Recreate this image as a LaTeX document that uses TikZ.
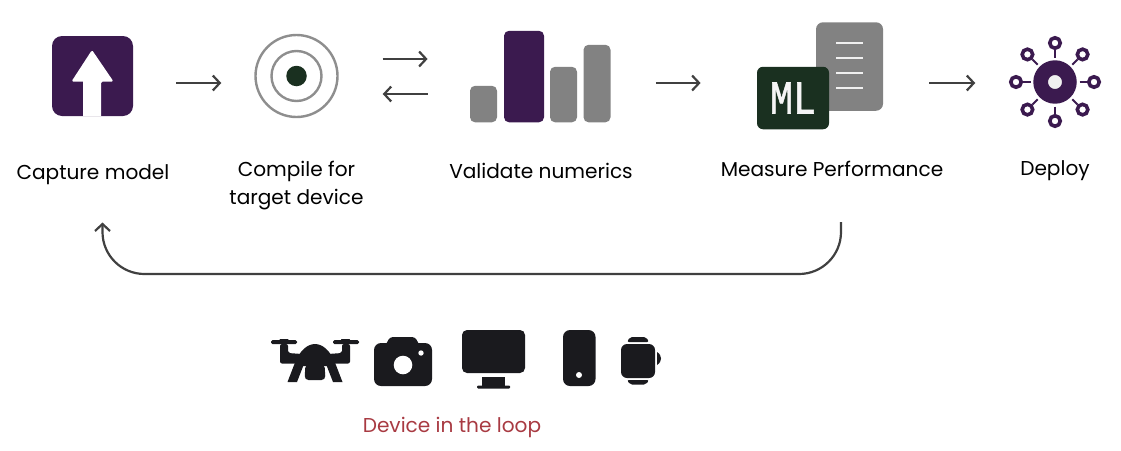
\documentclass[tikz,border=0pt]{standalone}
\usepackage{fontspec}
\setmainfont{Poppins}
\newfontfamily\mlfont[FakeBold=1.2]{Liberation Mono}
\usepackage{tikz}
\usetikzlibrary{positioning,arrows.meta,calc,fit}
\definecolor{opurple}{HTML}{3B1A4F}
\definecolor{ogreen}{HTML}{1A3020}
\definecolor{ogray}{HTML}{828282}
\definecolor{oring}{HTML}{8E8E8E}
\definecolor{oink}{HTML}{1A1A1E}
\definecolor{oline}{HTML}{404040}
\definecolor{ored}{HTML}{A83A42}

\begin{document}
\begin{tikzpicture}[x=1pt, y=-1pt,
  iconbox/.style={rectangle, rounded corners=10pt, inner sep=0pt, draw=none},
  barbox/.style={rectangle, rounded corners=5pt, inner sep=0pt, anchor=south, minimum width=27pt, fill=ogray},
  ringnode/.style={circle, inner sep=0pt, draw=oring, line width=2.4pt, fill=white},
  satnode/.style={circle, inner sep=0pt, minimum size=10.5pt, draw=opurple, line width=3.6pt, fill=white},
  spoke/.style={draw=opurple, line width=2pt},
  lbl/.style={font=\fontsize{20.1}{28}\selectfont, text=black, align=center, inner sep=0pt},
  arr/.style={-{Straight Barb[length=7pt,width=15pt,line width=2.2pt]}, line width=2.2pt, color=oline},
  dev/.style={fill=oink, draw=none},
  groupbox/.style={inner sep=0pt, draw=none}
]
\useasboundingbox (0,0) rectangle (1121,450);

% rows the arrows run along
\coordinate (rowmid) at (0,83);
\coordinate (rowtop) at (0,59);
\coordinate (rowlow) at (0,94);

% capture
\node[iconbox, fill=opurple, minimum width=81pt, minimum height=80pt] (capture) at (92.5,76) {};
\fill[white, rounded corners=1.5pt] (92,50) -- (113.5,81.5) -- (101,81.5) [sharp corners] -- (101,116) -- (83,116) -- (83,81.5) [rounded corners=1.5pt] -- (71.5,81.5) -- cycle;
\node[lbl] (capturelbl) at (93,175) {Capture model};

% compile
\node[ringnode, minimum size=82pt] (target) at (296.5,76) {};
\node[ringnode, minimum size=50pt] (targetmid) at (296.5,76) {};
\node[circle, inner sep=0pt, minimum size=20.5pt, fill=ogreen] (targetdot) at (296.5,76) {};
\node[lbl] (targetlbl) at (296.5,186) {Compile for\\target device};

% validate
\node[barbox, minimum height=36.5pt] (barA) at (483.5,122.5) {};
\node[barbox, fill=opurple, minimum width=40pt, minimum height=91.5pt] (barB) at (524,122.5) {};
\node[barbox, minimum height=55.5pt] (barC) at (563.5,122.5) {};
\node[barbox, minimum height=77.5pt] (barD) at (597,122.5) {};
\node[groupbox, fit=(barA)(barB)(barC)(barD)] (validate) {};
\node[lbl] (validatelbl) at (541,170.5) {Validate numerics};

% measure
\node[iconbox, fill=ogray, minimum width=67pt, minimum height=88.5pt, rounded corners=7pt] (doc) at (849.5,66.5) {};
\foreach \yy in {43,58,73,88}
  \draw[white!88!gray, line width=2.8pt] (836,\yy) -- (862.5,\yy);
\node[iconbox, fill=ogreen, minimum width=72pt, minimum height=62.5pt, rounded corners=6pt, text=white!92!gray, font=\mlfont\fontsize{47}{47}\selectfont] (ml) at (793,98) {\scalebox{.82}[1]{ML}};
\node[groupbox, fit=(doc)(ml)] (measure) {};
\node[lbl] (measurelbl) at (832,169) {Measure Performance};

% deploy
\node[circle, inner sep=0pt, minimum size=28.7pt, draw=opurple, line width=14.7pt, fill=black!6] (hub) at (1055,82) {};
\foreach \ang/\nm in {0/a,45/b,90/c,135/d,180/e,225/f,270/g,315/h} {
  \node[satnode] (sat\nm) at ($(hub)+(\ang:39pt)$) {};
  \draw[spoke] ($(hub)+(\ang:24.5pt)$) -- (sat\nm);
}
\node[lbl] (deploylbl) at (1055,171) {Deploy};

\draw[arr, shorten <=43pt, shorten >=33pt] (capture.east |- rowmid) -- (target.west |- rowmid);
\draw[arr, shorten <=44pt, shorten >=42pt] (target.east |- rowtop) -- (validate.west |- rowtop);
\draw[arr, shorten <=42pt, shorten >=44pt] (validate.west |- rowlow) -- (target.east |- rowlow);
\draw[arr, shorten <=45pt, shorten >=56pt] (validate.east |- rowmid) -- (measure.west |- rowmid);
\draw[arr, shorten <=46pt, shorten >=58pt] (measure.east |- rowmid) -- (hub.west |- rowmid);

% loop back
\coordinate (loopstart) at (841,222);
\coordinate (loopend) at (102.5,222.5);
\coordinate (loopbase) at (470,274);
\draw[arr, rounded corners=42pt] (loopstart) |- (loopbase) -| (loopend);

% drone
\fill[dev, rounded corners=1.5pt] (271,340) rectangle (297,344);
\fill[dev, rounded corners=1.5pt] (333,340) rectangle (359,344);
\fill[dev] (279.5,339) arc (180:0:4.5) -- cycle;
\fill[dev] (341,339) arc (180:0:4.5) -- cycle;
\fill[dev, rounded corners=2pt] (280,344) -- (288,344) -- (288,353) -- (302,354) -- (302,363.5) -- (280,363.5) -- cycle;
\fill[dev, rounded corners=2pt] (350,344) -- (342,344) -- (342,353) -- (328,354) -- (328,363.5) -- (350,363.5) -- cycle;
\fill[dev] (295,362) .. controls (300,351) and (307,344) .. (315,344) .. controls (323,344) and (330,351) .. (335,362) -- (334,366) -- (296,366) -- cycle;
\fill[dev, rounded corners=4pt] (305.5,364) -- (304.5,380) -- (325.5,380) -- (324.5,364) -- cycle;
\fill[dev] (296,360) -- (304,364) -- (297,382) -- (287.5,382) -- cycle;
\fill[dev] (334,360) -- (326,364) -- (333,382) -- (342.5,382) -- cycle;

% camera
\fill[dev, rounded corners=7pt] (374,343) rectangle (432,386);
\fill[dev, rounded corners=3pt] (385,346) -- (390,337) -- (415,337) -- (420,346) -- cycle;
\fill[white] (403,365) circle (9.3) (421,353) circle (2.7);

% monitor
\fill[dev, rounded corners=5pt] (462,330) rectangle (525,373);
\fill[dev] (482,377) rectangle (505,386);
\fill[dev, rounded corners=1pt] (477,385.5) rectangle (510,388.5);

% phone
\fill[dev, rounded corners=7pt] (563,330) rectangle (595.5,386);
\fill[white] (579,375) circle (3);

% watch
\fill[dev, rounded corners=6pt] (621,344) rectangle (655,378);
\fill[dev, rounded corners=2pt] (627,342) -- (630,337) -- (646,337) -- (649,342) -- cycle;
\fill[dev, rounded corners=2pt] (627,380) -- (630,384.5) -- (646,384.5) -- (649,380) -- cycle;
\fill[dev] (657,352) .. controls (660,354) and (661,356) .. (661,358.5) .. controls (661,361) and (660,363) .. (657,365) -- cycle;

\node[lbl, text=ored] (looplbl) at (452,427) {Device in the loop};
\end{tikzpicture}
\end{document}
